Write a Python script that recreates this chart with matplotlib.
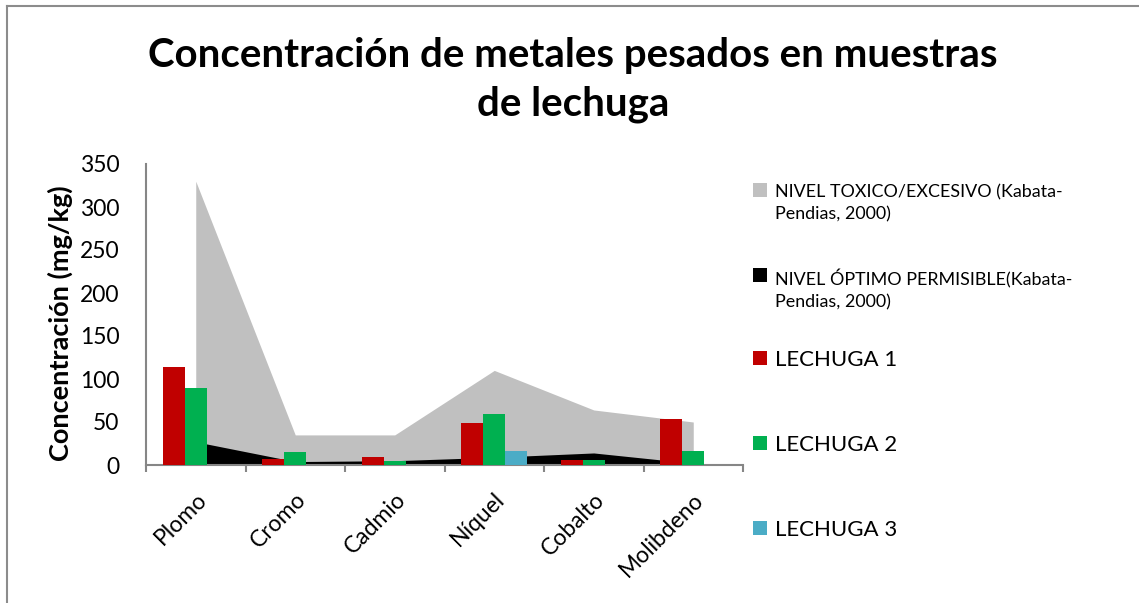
import matplotlib.pyplot as plt
from matplotlib.patches import Rectangle
import numpy as np

plt.rcParams['font.family'] = ['Lato', 'DejaVu Sans']

metales = ["Plomo", "Cromo", "Cadmio", "Níquel", "Cobalto", "Molibdeno"]
nivel_toxico = [330, 35, 35, 110, 64, 50]
nivel_optimo = [27, 4, 5, 9, 14, 2]
lechuga_1 = [114, 7, 9, 49, 6, 54]
lechuga_2 = [90, 15, 5, 59, 6, 16]
lechuga_3 = [0, 0, 0, 16, 0, 0]

series_labels = ["NIVEL TOXICO/EXCESIVO (Kabata-\nPendias, 2000)",
                 "NIVEL ÓPTIMO PERMISIBLE(Kabata-\nPendias, 2000)",
                 "LECHUGA 1", "LECHUGA 2", "LECHUGA 3"]
series_colors = ["#C0C0C0", "#000000", "#C00000", "#00B050", "#4BACC6"]

fig = plt.figure(figsize=(11.39, 6.03), dpi=100)
ax = fig.add_axes([146 / 1139, 1 - 465 / 603, (743 - 146) / 1139, (465 - 164) / 603])

x = np.arange(len(metales))

# areas (reference levels)
ax.fill_between(x, 0, nivel_toxico, color=series_colors[0], lw=0, zorder=1)
ax.fill_between(x, 0, nivel_optimo, color=series_colors[1], lw=0, zorder=2)

# bars
w = 0.222
for i, vals in enumerate([lechuga_1, lechuga_2, lechuga_3]):
    ax.bar(x + (i - 1) * w, vals, width=w, color=series_colors[i + 2], lw=0, zorder=3)

ax.set_xlim(-0.5, len(metales) - 0.5)
ax.set_ylim(0, 350)
ax.set_yticks(np.arange(0, 351, 50))
ax.tick_params(axis='y', length=0, pad=19, labelsize=16.5)

ax.set_xticks(np.arange(-0.5, len(metales)), labels=[])
ax.set_xticks(x, minor=True)
ax.set_xticklabels(metales, minor=True, rotation=45, ha='right', rotation_mode='anchor', fontsize=16.5)
ax.tick_params(axis='x', which='major', length=5, width=1.5, color='#868686', direction='out')
ax.tick_params(axis='x', which='minor', length=0, pad=17)

for s in ['top', 'right']:
    ax.spines[s].set_visible(False)
for s in ['left', 'bottom']:
    ax.spines[s].set_color('#868686')
    ax.spines[s].set_linewidth(1.5)

ax.set_ylabel("Concentración (mg/kg)", fontsize=19.5, fontweight='bold')
ax.yaxis.set_label_coords(-0.123, 0.47)

fig.text(0.503, 1 - 55 / 603, "Concentración de metales pesados en muestras",
         ha='center', va='center', fontsize=29, fontweight='bold')
fig.text(0.503, 1 - 104 / 603, "de lechuga",
         ha='center', va='center', fontsize=29, fontweight='bold')

# legend drawn by hand (Excel-like layout)
leg_y = [190, 275, 358, 443, 528]
leg_size = [12.9, 12.9, 16, 16, 16]
for lab, col, yy, fs in zip(series_labels, series_colors, leg_y, leg_size):
    fig.patches.append(Rectangle((753 / 1139, 1 - (yy + 7) / 603), 14 / 1139, 14 / 603,
                                 transform=fig.transFigure, color=col, lw=0))
    fig.text(775 / 1139, 1 - (yy + 4 - fs * 0.72) / 603, lab, ha='left', va='top',
             fontsize=fs, linespacing=1.4)

# outer frame lines (top and left)
fig.add_artist(plt.Line2D([7 / 1139, 1], [1 - 6 / 603, 1 - 6 / 603], color='#8c8c8c', lw=1.5))
fig.add_artist(plt.Line2D([7 / 1139, 7 / 1139], [0, 1 - 6 / 603], color='#8c8c8c', lw=1.5))

fig.savefig("out.png", dpi=100)
